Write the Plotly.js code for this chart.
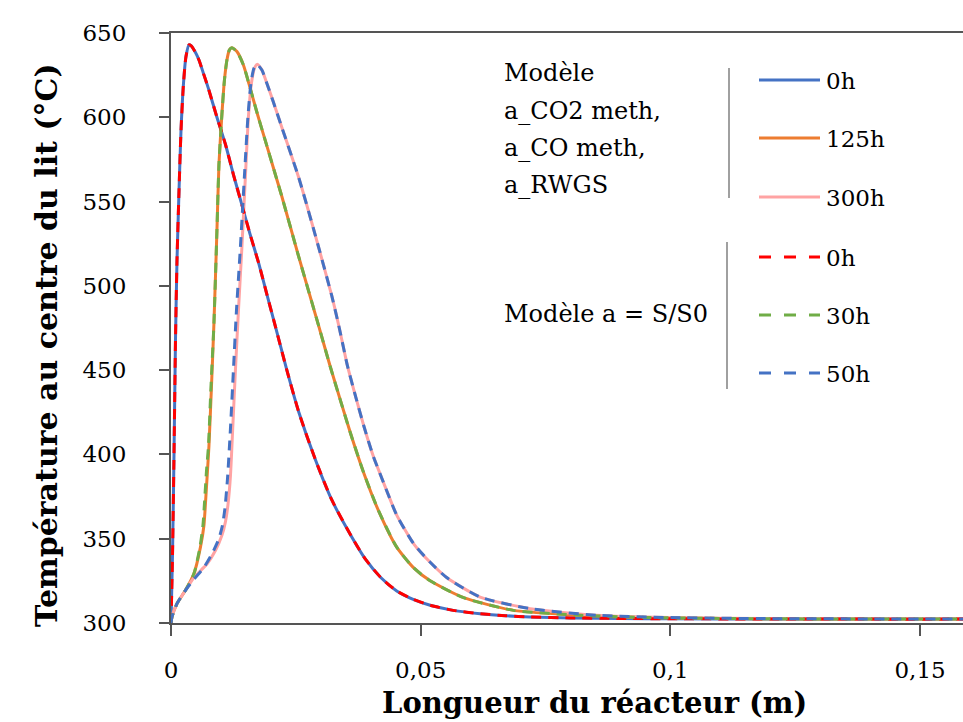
<!DOCTYPE html>
<html>
<head>
<meta charset="utf-8">
<script src="https://cdn.plot.ly/plotly-3.0.1.min.js"></script>
<style>html,body{margin:0;padding:0;background:#fff;}</style>
</head>
<body>
<div id="chart" style="width:963px;height:722px;"></div>
<script>
// ---- data ----
// Modèle a_CO2 meth, a_CO meth, a_RWGS : 0h
var x_0h = [0, 0.0003, 0.0006, 0.0009, 0.0012, 0.0016, 0.002, 0.0025, 0.003, 0.0036, 0.004, 0.0048, 0.0056, 0.0065, 0.0075, 0.0092, 0.0109, 0.0125, 0.0142, 0.0158, 0.0176, 0.0192, 0.0209, 0.0232, 0.0256, 0.0289, 0.0322, 0.0362, 0.0389, 0.042, 0.0452, 0.0485, 0.0519, 0.0565, 0.0619, 0.067, 0.0719, 0.08, 0.09, 0.1, 0.12, 0.14, 0.16];
var y_0h = [300, 340, 400, 468, 515, 556, 592, 620, 636, 643, 642.5, 639, 634, 626, 617, 600, 584, 566, 548, 531, 513, 495, 476, 450, 425, 397, 373, 351, 338, 327, 319, 314, 310.5, 307.5, 305.5, 304.3, 303.6, 303, 302.7, 302.5, 302.4, 302.3, 302.3];
// 125h
var x_125h = [0, 0.0002, 0.0012, 0.0029, 0.0046, 0.0059, 0.0066, 0.0069, 0.0073, 0.0076, 0.0081, 0.0086, 0.0092, 0.0096, 0.0102, 0.0107, 0.0112, 0.0117, 0.0122, 0.0132, 0.0145, 0.0156, 0.0172, 0.0189, 0.0206, 0.0222, 0.0256, 0.0296, 0.0319, 0.0359, 0.0386, 0.0415, 0.0452, 0.0485, 0.0519, 0.0586, 0.0686, 0.0819, 0.095, 0.11, 0.13, 0.16];
var y_125h = [300, 303.6, 311.5, 319.4, 329.3, 345, 358, 371, 390, 405, 440, 478, 533, 572, 602, 622, 634, 640, 641.3, 639, 631, 620, 603, 586, 569, 553, 517, 476, 452, 413, 389, 367, 345, 333, 325, 315, 307.5, 304.6, 303.3, 302.7, 302.4, 302.3];
// 300h
var x_300h = [0, 0.0002, 0.0012, 0.0029, 0.0046, 0.0072, 0.0089, 0.0102, 0.0109, 0.0114, 0.0119, 0.0124, 0.0129, 0.0135, 0.0142, 0.0149, 0.0155, 0.0161, 0.0167, 0.0173, 0.0182, 0.0191, 0.0205, 0.0222, 0.0256, 0.0289, 0.0322, 0.0337, 0.0353, 0.037, 0.0386, 0.0405, 0.0426, 0.0452, 0.0486, 0.0519, 0.0552, 0.0619, 0.0719, 0.0852, 0.1, 0.12, 0.14, 0.16];
var y_300h = [300, 303.6, 311.5, 319.4, 327, 335, 343, 352, 360, 370, 387, 418, 450, 485, 523, 565, 600, 620, 629, 631.5, 628, 621, 609, 594, 564, 530, 494, 475, 453, 434, 417, 399, 383, 364, 347, 336, 327, 315.4, 308.5, 304.6, 303.2, 302.6, 302.4, 302.3];
// Modèle a = S/S0 : 0h
var x_s0h = [0, 0.0003, 0.0006, 0.0009, 0.0012, 0.0016, 0.002, 0.0025, 0.003, 0.0036, 0.004, 0.0048, 0.0056, 0.0065, 0.0075, 0.0092, 0.0109, 0.0125, 0.0142, 0.0158, 0.0176, 0.0192, 0.0209, 0.0232, 0.0256, 0.0289, 0.0322, 0.0362, 0.0389, 0.042, 0.0452, 0.0485, 0.0519, 0.0565, 0.0619, 0.067, 0.0719, 0.08, 0.09, 0.1, 0.12, 0.14, 0.16];
var y_s0h = [300, 340, 400, 468, 515, 556, 592, 620, 636, 643, 642.5, 639, 634, 626, 617, 600, 584, 566, 548, 531, 513, 495, 476, 450, 425, 397, 373, 351, 338, 327, 319, 314, 310.5, 307.5, 305.5, 304.3, 303.6, 303, 302.7, 302.5, 302.4, 302.3, 302.3];
// 30h
var x_30h = [0, 0.0002, 0.0012, 0.0029, 0.0046, 0.0058, 0.0064, 0.0067, 0.0071, 0.0075, 0.008, 0.0086, 0.0092, 0.0096, 0.0102, 0.0107, 0.0112, 0.0117, 0.0122, 0.0132, 0.0145, 0.0156, 0.0172, 0.0189, 0.0206, 0.0222, 0.0256, 0.0296, 0.0319, 0.0359, 0.0386, 0.0415, 0.0452, 0.0485, 0.0519, 0.0586, 0.0686, 0.0819, 0.095, 0.11, 0.13, 0.16];
var y_30h = [300, 303.6, 311.5, 319.4, 329.3, 345, 358, 371, 390, 405, 440, 478, 533, 572, 602, 622, 634, 640, 641.3, 639, 631, 620, 603, 586, 569, 553, 517, 476, 452, 413, 389, 367, 345, 333, 325, 315, 307.5, 304.6, 303.3, 302.7, 302.4, 302.3];
// 50h
var x_50h = [0, 0.0002, 0.0012, 0.0029, 0.0046, 0.0066, 0.0082, 0.0096, 0.0103, 0.0108, 0.0113, 0.0119, 0.0125, 0.0131, 0.0139, 0.0147, 0.0154, 0.016, 0.0166, 0.0172, 0.0182, 0.0191, 0.0205, 0.0222, 0.0256, 0.0289, 0.0322, 0.0337, 0.0353, 0.037, 0.0386, 0.0405, 0.0426, 0.0452, 0.0486, 0.0519, 0.0552, 0.0619, 0.0719, 0.0852, 0.1, 0.12, 0.14, 0.16];
var y_50h = [300, 303.6, 311.5, 319.4, 326, 333, 341, 350, 358, 368, 385, 415, 450, 485, 523, 565, 600, 620, 629, 631.4, 628, 621, 609, 594, 564, 530, 494, 475, 453, 434, 417, 399, 383, 364, 347, 336, 327, 315.4, 308.5, 304.6, 303.2, 302.6, 302.4, 302.3];

var xTickVals = [0, 0.05, 0.1, 0.15];
var xTickText = ['0', '0,05', '0,1', '0,15'];
var yTickVals = [300, 350, 400, 450, 500, 550, 600, 650];
var yTickText = ['300', '350', '400', '450', '500', '550', '600', '650'];

var xTitle = 'Longueur du réacteur (m)';
var yTitle = 'Température au centre du lit (°C)';
var legendLabels = ['0h', '125h', '300h', '0h', '30h', '50h'];
var groupTitleA = ['Modèle', 'a_CO2 meth,', 'a_CO meth,', 'a_RWGS'];
var groupTitleB = 'Modèle a = S/S0';

// ---- styles ----
var FONT = 'DejaVu Serif, Liberation Serif, serif';
var colors = ['#4472C4', '#ED7D31', '#FFA3A3', '#FF0000', '#70AD47', '#4472C4'];
var dashes = ['solid', 'solid', 'solid', '10px,7px', '10px,7px', '10px,7px'];
var series = [[x_0h, y_0h], [x_125h, y_125h], [x_300h, y_300h], [x_s0h, y_s0h], [x_30h, y_30h], [x_50h, y_50h]];

var traces = series.map(function (s, i) {
  return {
    x: s[0], y: s[1], type: 'scatter', mode: 'lines',
    name: legendLabels[i], showlegend: false,
    line: {color: colors[i], width: 3, dash: dashes[i], shape: 'spline', smoothing: 0.6},
    hoverinfo: 'skip'
  };
});

// plot area geometry (pixels) used only for the hand-made legend and titles
var L = 171, R = 963, T = 33, B = 623;
function px(x) { return (x - L) / (R - L); }
function py(y) { return (B - y) / (B - T); }

var shapes = [];
var annotations = [];
var legY = [80, 138, 197, 257, 315, 373];
legY.forEach(function (yy, i) {
  shapes.push({type: 'line', xref: 'paper', yref: 'paper', x0: px(759), x1: px(820), y0: py(yy), y1: py(yy),
    line: {color: colors[i], width: 3, dash: i < 3 ? 'solid' : '12px,13px'}});
  annotations.push({xref: 'paper', yref: 'paper', x: px(824), y: py(yy + 1), xanchor: 'left', yanchor: 'middle',
    text: legendLabels[i], showarrow: false, font: {family: FONT, size: 23, color: '#000'}});
});
shapes.push({type: 'line', xref: 'paper', yref: 'paper', x0: px(729), x1: px(729), y0: py(68), y1: py(198), line: {color: '#808080', width: 1.5}});
shapes.push({type: 'line', xref: 'paper', yref: 'paper', x0: px(727), x1: px(727), y0: py(242), y1: py(389), line: {color: '#808080', width: 1.5}});
var titleYs = [73, 111, 148, 185];
groupTitleA.forEach(function (t, i) {
  annotations.push({xref: 'paper', yref: 'paper', x: px(502), y: py(titleYs[i]), xanchor: 'left', yanchor: 'middle',
    text: t, showarrow: false, font: {family: FONT, size: 24, color: '#000'}});
});
annotations.push({xref: 'paper', yref: 'paper', x: px(502), y: py(314), xanchor: 'left', yanchor: 'middle',
  text: groupTitleB, showarrow: false, font: {family: FONT, size: 24, color: '#000'}});
// axis titles
annotations.push({xref: 'paper', yref: 'paper', x: px(594), y: py(703), xanchor: 'center', yanchor: 'middle',
  text: '<b>' + xTitle + '</b>', showarrow: false, font: {family: FONT, size: 29, color: '#000'}});
annotations.push({xref: 'paper', yref: 'paper', x: px(46), y: py(345), xanchor: 'center', yanchor: 'middle', textangle: -90,
  text: '<b>' + yTitle + '</b>', showarrow: false, font: {family: FONT, size: 30, color: '#000'}});

var layout = {
  width: 963, height: 722, autosize: false,
  margin: {l: L, r: 0, t: T, b: 722 - B, pad: 0},
  paper_bgcolor: '#fff', plot_bgcolor: '#fff',
  showlegend: false,
  xaxis: {
    range: [0, 0.1586], showgrid: false, zeroline: false,
    showline: true, linecolor: '#555', linewidth: 2, mirror: true,
    ticks: 'outside', ticklen: 11, tickwidth: 2, tickcolor: '#555',
    tickvals: xTickVals, ticktext: xTickText, ticklabelstandoff: 14,
    tickfont: {family: FONT, size: 23, color: '#000'}
  },
  yaxis: {
    range: [300, 650], showgrid: false, zeroline: false,
    showline: true, linecolor: '#555', linewidth: 2,
    ticks: 'outside', ticklen: 10, tickwidth: 2, tickcolor: '#555',
    tickvals: yTickVals, ticktext: yTickText, ticklabelstandoff: 28,
    tickfont: {family: FONT, size: 23, color: '#000'}
  },
  shapes: shapes,
  annotations: annotations
};

Plotly.newPlot('chart', traces, layout, {displayModeBar: false, staticPlot: true});
</script>
</body>
</html>
